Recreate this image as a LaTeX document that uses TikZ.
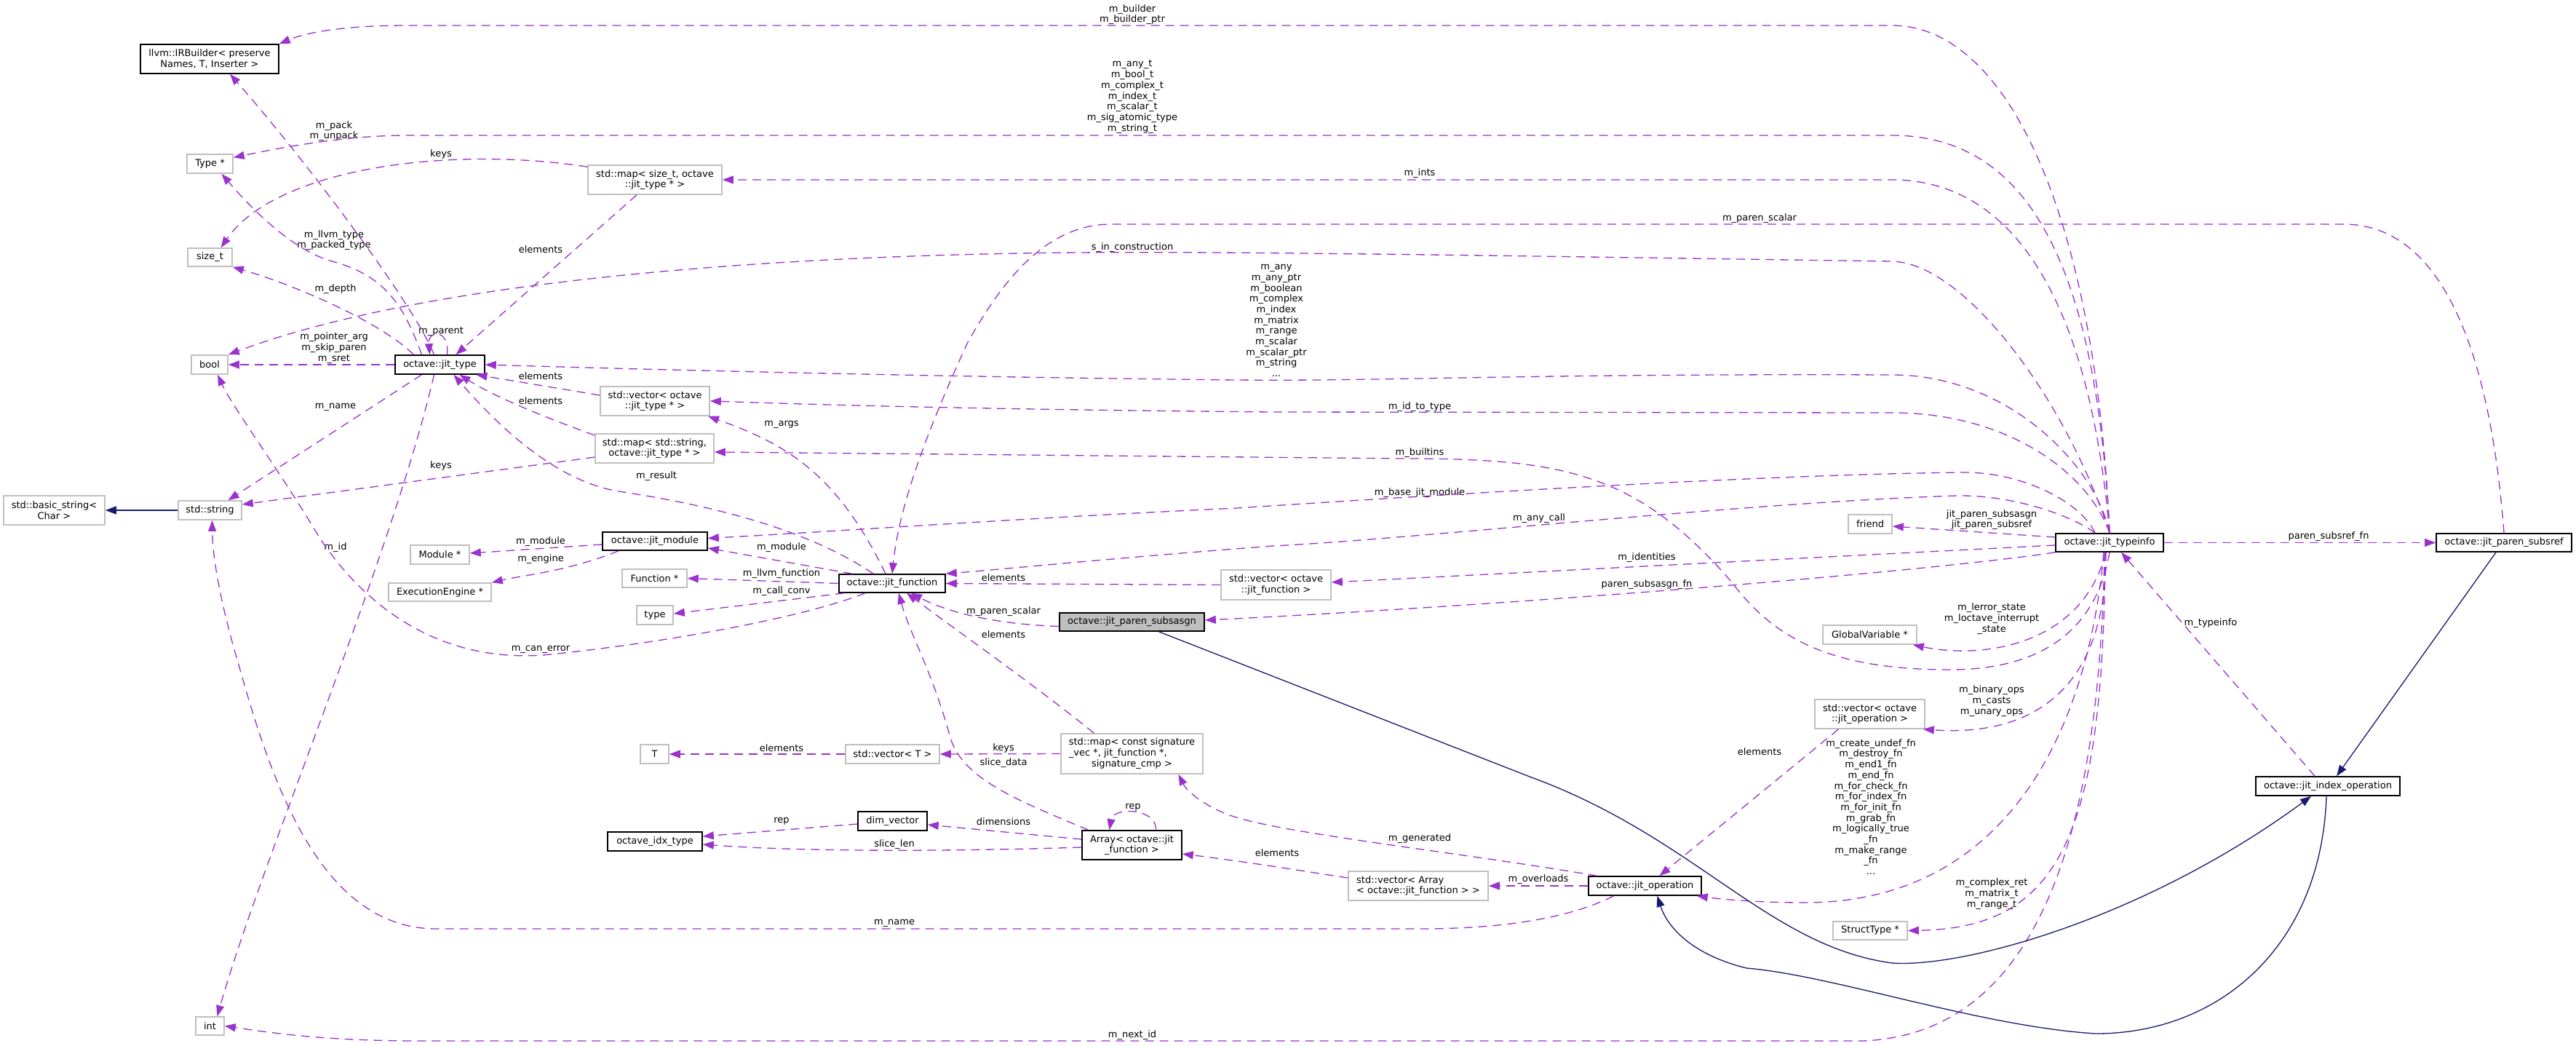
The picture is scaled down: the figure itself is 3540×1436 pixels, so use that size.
\documentclass[tikz,border=0pt]{standalone}
\usepackage{fontspec}
\setmainfont{DejaVu Sans}
\usetikzlibrary{arrows.meta}
\definecolor{edgep}{HTML}{9A32CD}
\definecolor{inhb}{HTML}{191970}
\definecolor{gborder}{HTML}{BFBFBF}
\newcommand\dxfont{\fontsize{13pt}{14.7pt}\selectfont}
\begin{document}
\begin{tikzpicture}[x=1pt,y=-1pt,font=\dxfont,
 cls/.style={draw=black,line width=1.6pt,inner sep=0pt,align=center},
 ext/.style={draw=gborder,line width=1.6pt,inner sep=0pt,align=center},
 mainc/.style={cls,fill=gborder},
 lab/.style={inner sep=0pt,align=center},
 ue/.style={draw=edgep,line width=1.3pt,dash pattern=on 12pt off 8pt,-{Triangle[length=15pt,width=11pt]}},
 ie/.style={draw=inhb,line width=1.3pt,-{Triangle[length=15pt,width=11pt]}}]
\fill[white] (0,0) rectangle (3540,1436);
\useasboundingbox (0,0) rectangle (3540,1436);

% nodes
\node[cls,minimum width=190pt,minimum height=40pt] (irb) at (288,81) {llvm::IRBuilder< preserve\\Names, T, Inserter >};
\node[ext,minimum width=63pt,minimum height=26pt] (typeptr) at (288.5,225) {Type *};
\node[ext,minimum width=61pt,minimum height=25pt] (sizet) at (288.5,353.5) {size\_t};
\node[ext,minimum width=50pt,minimum height=26pt] (bool) at (288,501) {bool};
\node[ext,minimum width=184pt,minimum height=40pt] (mapsz) at (900,247) {std::map< size\_t, octave\\::jit\_type * >};
\node[cls,minimum width=123pt,minimum height=26pt] (jtype) at (604.5,501) {octave::jit\_type};
\node[ext,minimum width=139pt,minimum height=40pt] (bstr) at (74.5,701) {std::basic\_string<\\Char >};
\node[ext,minimum width=87pt,minimum height=26pt] (str) at (288.5,701) {std::string};
\node[ext,minimum width=81pt,minimum height=26pt] (modptr) at (604.5,762) {Module *};
\node[ext,minimum width=141pt,minimum height=25pt] (ee) at (604.5,813.5) {ExecutionEngine *};
\node[ext,minimum width=150pt,minimum height=40pt] (vecjt) at (900,551) {std::vector< octave\\::jit\_type * >};
\node[ext,minimum width=163pt,minimum height=40pt] (mapstr) at (899.5,616) {std::map< std::string,\\octave::jit\_type * >};
\node[cls,minimum width=144pt,minimum height=25pt] (jmod) at (900,743.5) {octave::jit\_module};
\node[ext,minimum width=89pt,minimum height=25pt] (fnptr) at (899.5,794.5) {Function *};
\node[ext,minimum width=50pt,minimum height=26pt] (type) at (900,845) {type};
\node[cls,minimum width=146pt,minimum height=25pt] (jfun) at (1226,801.5) {octave::jit\_function};
\node[mainc,minimum width=199pt,minimum height=25pt] (jpsa) at (1555.5,854.5) {octave::jit\_paren\_subsasgn};
\node[ext,minimum width=151pt,minimum height=41pt] (vecjf) at (1753.5,803.5) {std::vector< octave\\::jit\_function >};
\node[ext,minimum width=60pt,minimum height=26pt] (friend) at (2570,720) {friend};
\node[ext,minimum width=129pt,minimum height=26pt] (gv) at (2569.5,872) {GlobalVariable *};
\node[ext,minimum width=151pt,minimum height=40pt] (vecop) at (2569.5,981) {std::vector< octave\\::jit\_operation >};
\node[cls,minimum width=148pt,minimum height=25pt] (ti) at (2899,745.5) {octave::jit\_typeinfo};
\node[cls,minimum width=186pt,minimum height=25pt] (jpsr) at (3441,745.5) {octave::jit\_paren\_subsref};
\node[cls,minimum width=155pt,minimum height=26pt] (jop) at (2260.5,1217) {octave::jit\_operation};
\node[ext,minimum width=192pt,minimum height=40pt,align=left] (vecarr) at (1949,1217) {std::vector< Array\\< octave::jit\_function > >};
\node[ext,minimum width=39pt,minimum height=26pt] (T) at (899.5,1036) {T};
\node[ext,minimum width=129pt,minimum height=26pt] (vecT) at (1226.5,1036) {std::vector< T >};
\node[ext,minimum width=195pt,minimum height=55pt] (mapsig) at (1555.5,1035.5) {\begin{tabular}{@{}l@{}}std::map< const signature\\\_vec *, jit\_function *,\\\multicolumn{1}{@{}c@{}}{signature\_cmp >}\end{tabular}};
\node[cls,minimum width=95pt,minimum height=26pt] (dimv) at (1226.5,1128) {dim\_vector};
\node[cls,minimum width=130pt,minimum height=26pt] (oit) at (900,1156) {octave\_idx\_type};
\node[cls,minimum width=137pt,minimum height=40pt] (arr) at (1555.5,1161) {Array< octave::jit\\\_function >};
\node[ext,minimum width=39pt,minimum height=25pt] (int) at (288.5,1409.5) {int};
\node[ext,minimum width=102pt,minimum height=25pt] (st) at (2570,1278.5) {StructType *};
\node[cls,minimum width=198pt,minimum height=26pt] (jio) at (3199,1080) {octave::jit\_index\_operation};

% labels
\node[lab] (l1) at (1556,20) {m\_builder\\m\_builder\_ptr};
\node[lab] (l2) at (1556,133) {m\_any\_t\\m\_bool\_t\\m\_complex\_t\\m\_index\_t\\m\_scalar\_t\\m\_sig\_atomic\_type\\m\_string\_t};
\node[lab] (l3) at (1951,238) {m\_ints};
\node[lab] (l4) at (2418,300) {m\_paren\_scalar};
\node[lab] (l5) at (1556,340) {s\_in\_construction};
\node[lab] (l6) at (1754,440.5) {m\_any\\m\_any\_ptr\\m\_boolean\\m\_complex\\m\_index\\m\_matrix\\m\_range\\m\_scalar\\m\_scalar\_ptr\\m\_string\\...};
\node[lab] (l7) at (1951,559) {m\_id\_to\_type};
\node[lab] (l8) at (1951,622) {m\_builtins};
\node[lab] (l9) at (1951,677) {m\_base\_jit\_module};
\node[lab] (l10) at (2115,712) {m\_any\_call};
\node[lab] (l11) at (2263,766) {m\_identities};
\node[lab] (l12) at (2263,803) {paren\_subsasgn\_fn};
\node[lab] (l13) at (2737,714) {jit\_paren\_subsasgn\\jit\_paren\_subsref};
\node[lab] (l14) at (2737,850) {m\_lerror\_state\\m\_loctave\_interrupt\\\_state};
\node[lab] (l15) at (2737,963) {m\_binary\_ops\\m\_casts\\m\_unary\_ops};
\node[lab] (l16) at (2571,1108.5) {m\_create\_undef\_fn\\m\_destroy\_fn\\m\_end1\_fn\\m\_end\_fn\\m\_for\_check\_fn\\m\_for\_index\_fn\\m\_for\_init\_fn\\m\_grab\_fn\\m\_logically\_true\\\_fn\\m\_make\_range\\\_fn\\...};
\node[lab] (l17) at (2737,1228) {m\_complex\_ret\\m\_matrix\_t\\m\_range\_t};
\node[lab] (l18) at (1556,1422) {m\_next\_id};
\node[lab] (l19) at (3038,856) {m\_typeinfo};
\node[lab] (l20) at (3200,737) {paren\_subsref\_fn};
\node[lab] (l21) at (459,180) {m\_pack\\m\_unpack};
\node[lab] (l22) at (459,330) {m\_llvm\_type\\m\_packed\_type};
\node[lab] (l23) at (461,397) {m\_depth};
\node[lab] (l24) at (459,478) {m\_pointer\_arg\\m\_skip\_paren\\m\_sret};
\node[lab] (l25) at (606,455) {m\_parent};
\node[lab] (l26) at (743,343) {elements};
\node[lab] (l27) at (606,212) {keys};
\node[lab] (l28) at (743,517) {elements};
\node[lab] (l29) at (743,551) {elements};
\node[lab] (l30) at (606,640) {keys};
\node[lab] (l31) at (461,559) {m\_name};
\node[lab] (l32) at (461,752) {m\_id};
\node[lab] (l33) at (1229,1268) {m\_name};
\node[lab] (l34) at (743,892) {m\_can\_error};
\node[lab] (l35) at (902,654) {m\_result};
\node[lab] (l36) at (1074,583) {m\_args};
\node[lab] (l37) at (1074,752) {m\_module};
\node[lab] (l38) at (1074,788) {m\_llvm\_function};
\node[lab] (l39) at (1074,812) {m\_call\_conv};
\node[lab] (l40) at (743,744) {m\_module};
\node[lab] (l41) at (743,768) {m\_engine};
\node[lab] (l42) at (1379,840) {m\_paren\_scalar};
\node[lab] (l43) at (1379,794) {elements};
\node[lab] (l44) at (1379,872) {elements};
\node[lab] (l45) at (1379,1048) {slice\_data};
\node[lab] (l46) at (1379,1028) {keys};
\node[lab] (l47) at (1074,1028) {elements};
\node[lab] (l48) at (1557,1109) {rep};
\node[lab] (l49) at (1379,1129) {dimensions};
\node[lab] (l50) at (1229,1160) {slice\_len};
\node[lab] (l51) at (1074,1128) {rep};
\node[lab] (l52) at (1755,1172) {elements};
\node[lab] (l53) at (2114,1208) {m\_overloads};
\node[lab] (l54) at (1951,1152) {m\_generated};
\node[lab] (l55) at (2418,1033) {elements};

% edges from jit_typeinfo
\draw[ue] (ti.north) .. controls (2880,300) and (2760,35) .. (2600,35) -- (560,35) .. controls (470,35) and (420,45) .. (irb.north east);
\draw[ue] (ti.north) .. controls (2880,350) and (2780,186) .. (2600,186) -- (560,186) .. controls (480,186) and (400,200) .. (typeptr.15);
\draw[ue] (ti.north) .. controls (2870,400) and (2760,247) .. (2600,247) -- (mapsz.east);
\draw[ue] (ti.north) .. controls (2840,550) and (2700,361) .. (2600,359) .. controls (2100,352) and (1700,345) .. (1481,347) .. controls (1100,350) and (600,380) .. (bool.north east);
\draw[ue] (ti.north) .. controls (2880,640) and (2760,515) .. (2600,515) .. controls (2100,513) and (1900,524) .. (1700,522) .. controls (1300,518) and (900,508) .. (jtype.east);
\draw[ue] (ti.north) .. controls (2870,650) and (2760,567) .. (2600,567) -- (1750,566) .. controls (1300,562) and (1100,555) .. (vecjt.east);
\draw[ue] (ti.south) .. controls (2880,870) and (2800,920) .. (2680,920) .. controls (2520,920) and (2440,880) .. (2380,800) .. controls (2250,650) and (2150,630) .. (1930,630) -- ([yshift=-5pt]mapstr.east);
\draw[ue] ([xshift=-20pt]ti.north) .. controls (2860,690) and (2780,649) .. (2700,649) .. controls (2400,652) and (1900,685) .. (1700,698) .. controls (1400,712) and (1150,730) .. ([yshift=4pt]jmod.east);
\draw[ue] ([xshift=-20pt]ti.north) .. controls (2850,710) and (2770,680) .. (2690,681) .. controls (2400,690) and (1950,740) .. (1750,750) .. controls (1550,765) and (1400,780) .. (jfun.north east);
\draw[ue] ([yshift=7.5pt]ti.west) -- ([yshift=-3pt]friend.east);
\draw[ue] ([yshift=-3.5pt]ti.west) -- ([yshift=3.5pt]vecjf.east);
\draw[ue] (ti.south west) .. controls (2650,785) and (2100,830) .. ([yshift=2.5pt]jpsa.east);
\draw[ue] ([xshift=-5pt]ti.south) .. controls (2860,890) and (2720,905) .. ([xshift=-6pt]gv.south east);
\draw[ue] ([xshift=-5pt]ti.south) .. controls (2895,950) and (2790,1012) .. ([xshift=-3pt]vecop.south east);
\draw[ue] ([xshift=-8pt]ti.south) .. controls (2870,1000) and (2760,1240) .. (2480,1240) .. controls (2420,1240) and (2370,1236) .. ([xshift=-7pt]jop.south east);
\draw[ue] ([xshift=-6pt]ti.south) .. controls (2890,1150) and (2830,1275) .. (st.east);
\draw[ue] ([xshift=-7pt]ti.south) .. controls (2885,1150) and (2800,1420) .. (2560,1430) -- (580,1430) .. controls (450,1430) and (380,1420) .. (int.east);
\draw[ue] (ti.east) -- (jpsr.west);
\draw[ue] ([xshift=-18pt]jio.north) -- ([xshift=16pt]ti.south);
\draw[ue] (jpsr.north) .. controls (3425,520) and (3370,308) .. (3220,308) -- (1527,308) .. controls (1430,308) and (1370,400) .. (1330,470) .. controls (1270,600) and (1235,700) .. (jfun.north);

% inheritance
\draw[ie] ([xshift=37pt]jpsa.south) -- (2102,1067) .. controls (2330,1150) and (2430,1300) .. (2600,1323) .. controls (2700,1330) and (2950,1260) .. ([xshift=-23pt]jio.south);
\draw[ie] ([xshift=-2pt]jio.south) .. controls (3190,1300) and (3050,1420) .. (2880,1420) .. controls (2720,1410) and (2520,1340) .. (2400,1330) .. controls (2320,1310) and (2290,1270) .. ([xshift=17pt]jop.south);
\draw[ie] ([xshift=-11pt]jpsr.south) -- ([xshift=12pt]jio.north);
\draw[ie] (str.west) -- (bstr.east);

% left part
\draw[ue] ([xshift=-8pt]jtype.north) .. controls (570,420) and (420,220) .. ([xshift=28pt]irb.south);
\draw[ue] ([xshift=-25pt]jtype.north) .. controls (555,420) and (530,380) .. (460,360) .. controls (400,345) and (340,280) .. ([xshift=16pt]typeptr.south);
\draw[ue] ([xshift=-36pt]jtype.north) .. controls (520,440) and (400,390) .. (sizet.south east);
\draw[ue] (jtype.west) -- (bool.east);
\draw[ue] ([xshift=10pt]jtype.north) .. controls (618,452) and (588,452) .. ([xshift=-14pt]jtype.north);
\draw[ue] ([xshift=-25pt]mapsz.south) -- ([xshift=22pt]jtype.north);
\draw[ue] ([yshift=-3pt]mapsz.north west) .. controls (620,200) and (380,230) .. ([xshift=15pt]sizet.north);
\draw[ue] ([yshift=8pt]vecjt.west) -- ([xshift=50pt]jtype.south);
\draw[ue] ([yshift=18pt]mapstr.west) .. controls (740,570) and (680,545) .. ([xshift=27pt]jtype.south);
\draw[ue] ([yshift=-12pt]mapstr.west) -- ([yshift=8pt]str.east);
\draw[ue] ([xshift=-25pt]jtype.south) -- ([xshift=25pt]str.north);
\draw[ue] ([xshift=-8pt]jtype.south) .. controls (540,760) and (360,1180) .. ([xshift=10pt]int.north);
\draw[ue] ([xshift=-43pt]jop.south) .. controls (2150,1265) and (2050,1276) .. (1950,1276) -- (600,1276) .. controls (450,1276) and (380,1100) .. (330,920) .. controls (300,820) and (292,760) .. ([xshift=3pt]str.south);
\draw[ue] ([xshift=-37pt]jfun.south) .. controls (1100,850) and (900,885) .. (746,900) .. controls (600,910) and (500,830) .. (440,740) .. controls (380,640) and (320,560) .. ([xshift=11pt]bool.south);
\draw[ue] ([xshift=-26pt]jfun.north) .. controls (1100,720) and (950,690) .. (850,675) .. controls (760,660) and (680,580) .. ([xshift=19pt]jtype.south);
\draw[ue] ([xshift=-9pt]jfun.north) .. controls (1150,650) and (1080,610) .. ([xshift=73pt]vecjt.south);
\draw[ue] ([xshift=-55pt]jfun.north) -- ([yshift=-9.5pt]jmod.east);
\draw[ue] (jfun.west) -- (fnptr.east);
\draw[ue] ([xshift=-66pt]jfun.south) -- ([yshift=2pt]type.east);
\draw[ue] ([yshift=-4.5pt]jmod.west) -- ([yshift=2pt]modptr.east);
\draw[ue] ([xshift=-50pt]jmod.south) .. controls (780,785) and (720,790) .. (ee.north east);
\draw[ue] ([yshift=-6pt]jpsa.west) .. controls (1380,858) and (1310,845) .. ([xshift=26pt]jfun.south);
\draw[ue] (vecjf.west) -- (jfun.east);
\draw[ue] ([xshift=-52pt]mapsig.north) .. controls (1420,940) and (1320,870) .. ([xshift=20pt]jfun.south);
\draw[ue] ([xshift=-60pt]arr.north) .. controls (1400,1100) and (1320,1070) .. (1305,1010) .. controls (1280,920) and (1250,870) .. ([xshift=9pt]jfun.south);
\draw[ue] (mapsig.west) -- (vecT.east);
\draw[ue] (vecT.west) -- (T.east);
\draw[ue] ([xshift=33pt]arr.north) .. controls (1590,1110) and (1530,1108) .. ([xshift=-31pt]arr.north);
\draw[ue] ([yshift=8pt]arr.west) -- ([yshift=-5pt]dimv.east);
\draw[ue] ([yshift=-3pt]arr.west) .. controls (1300,1170) and (1100,1170) .. ([yshift=-4pt]oit.east);
\draw[ue] ([yshift=-4pt]dimv.west) -- ([yshift=7pt]oit.east);
\draw[ue] ([yshift=11pt]vecarr.west) .. controls (1780,1195) and (1720,1185) .. ([yshift=-12pt]arr.east);
\draw[ue] (jop.west) -- (vecarr.east);
\draw[ue] ([xshift=-66pt]jop.north) .. controls (2000,1170) and (1760,1145) .. (1690,1120) .. controls (1650,1105) and (1630,1085) .. ([xshift=64pt]mapsig.south);
\draw[ue] ([xshift=-43pt]vecop.south) -- ([xshift=20pt]jop.north);
\end{tikzpicture}
\end{document}
